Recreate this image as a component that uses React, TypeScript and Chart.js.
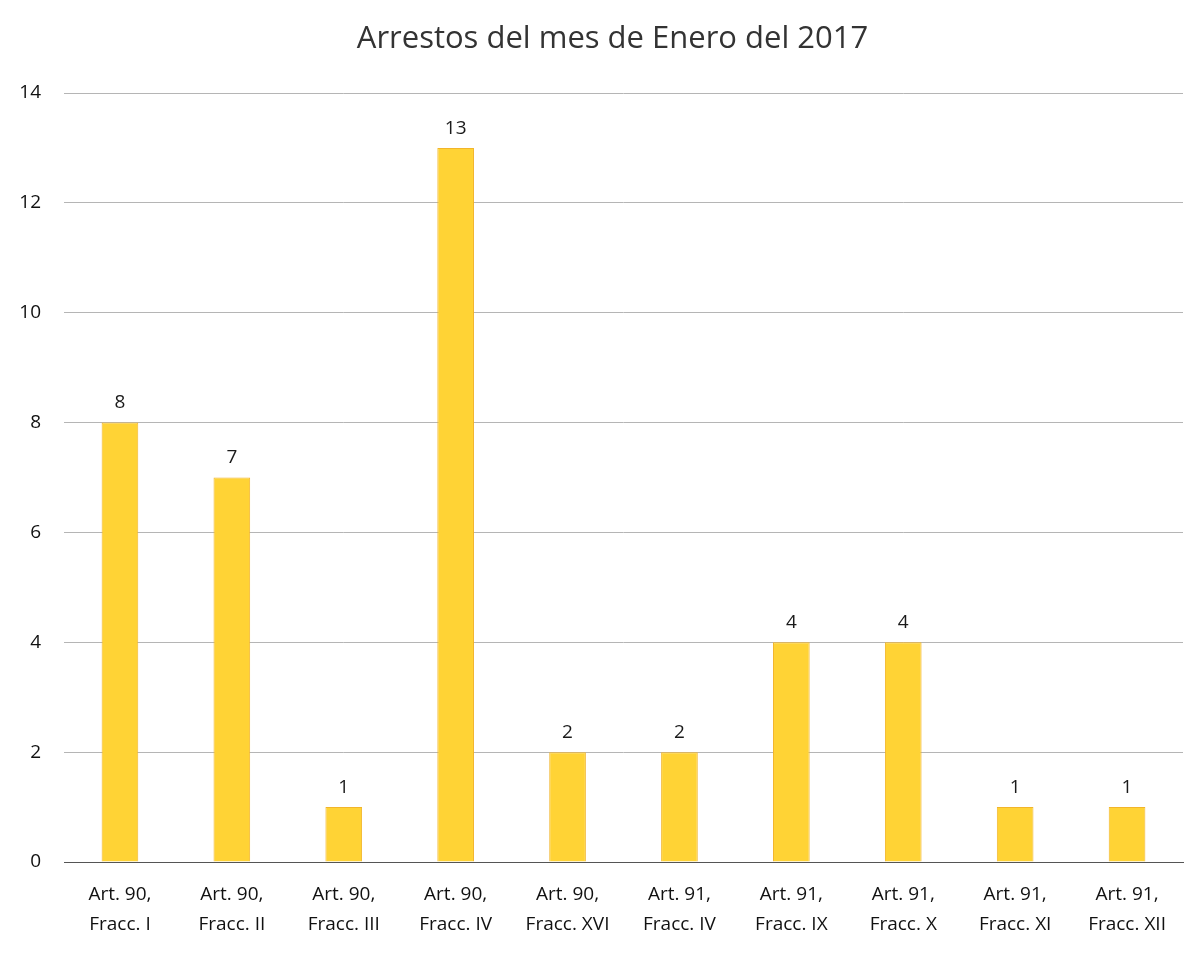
import React, { useEffect, useRef } from "react";
import { Chart, registerables } from "chart.js";

Chart.register(...registerables);

const titleText = "Arrestos del mes de Enero del 2017";
const categories: string[][] = [
  ["Art. 90,", "Fracc. I"],
  ["Art. 90,", "Fracc. II"],
  ["Art. 90,", "Fracc. III"],
  ["Art. 90,", "Fracc. IV"],
  ["Art. 90,", "Fracc. XVI"],
  ["Art. 91,", "Fracc. IV"],
  ["Art. 91,", "Fracc. IX"],
  ["Art. 91,", "Fracc. X"],
  ["Art. 91,", "Fracc. XI"],
  ["Art. 91,", "Fracc. XII"],
];
const arrests: number[] = [8, 7, 1, 13, 2, 2, 4, 4, 1, 1];

const FONT = "'Open Sans', 'Liberation Sans', sans-serif";

const valueLabels = {
  id: "valueLabels",
  afterDatasetsDraw(chart: any) {
    const ctx = chart.ctx;
    const meta = chart.getDatasetMeta(0);
    ctx.save();
    ctx.fillStyle = "#1a1a1a";
    ctx.font = `19px ${FONT}`;
    ctx.textAlign = "center";
    ctx.textBaseline = "bottom";
    meta.data.forEach((bar: any, i: number) => {
      ctx.fillText(String(chart.data.datasets[0].data[i]), bar.x, bar.y - 10);
    });
    ctx.restore();
  },
};

const centeredTitle = {
  id: "centeredTitle",
  afterDraw(chart: any) {
    const ctx = chart.ctx;
    ctx.save();
    ctx.fillStyle = "#333";
    ctx.font = `31px ${FONT}`;
    ctx.textAlign = "center";
    ctx.textBaseline = "middle";
    ctx.fillText(titleText, (chart.chartArea.left + chart.chartArea.right) / 2 - 11, 39);
    ctx.restore();
  },
};

export default function App() {
  const ref = useRef<HTMLCanvasElement | null>(null);
  useEffect(() => {
    document.body.style.margin = "0";
    const chart = new Chart(ref.current as HTMLCanvasElement, {
      type: "bar",
      data: {
        labels: categories,
        datasets: [
          {
            data: arrests,
            backgroundColor: "#FFD335",
            borderColor: "#F2B52A",
            borderWidth: 1,
            barPercentage: 0.63,
            categoryPercentage: 0.52,
          },
        ],
      },
      plugins: [valueLabels, centeredTitle],
      options: {
        animation: false,
        responsive: false,
        maintainAspectRatio: false,
        layout: { padding: { left: 0, right: 19, top: 93, bottom: 0 } },
        plugins: {
          legend: { display: false },
          tooltip: { enabled: false },
          title: { display: false },
        },
        scales: {
          x: {
            grid: { display: false, drawTicks: false },
            border: { display: true, color: "#555", width: 1 },
            ticks: {
              color: "#111",
              font: { family: FONT, size: 19, lineHeight: 1.6 },
              padding: 17,
              maxRotation: 0,
              autoSkip: false,
            },
            afterFit(scale: any) {
              scale.height = 94;
            },
          },
          y: {
            min: 0,
            max: 14,
            ticks: {
              stepSize: 2,
              color: "#111",
              font: { family: FONT, size: 19 },
              padding: 23,
            },
            grid: { color: "#b5b5b5", drawTicks: false, lineWidth: 1 },
            border: { display: false },
            afterFit(scale: any) {
              scale.width = 64;
            },
          },
        },
      },
    });
    return () => chart.destroy();
  }, []);
  return (
    <div style={{ width: 1202, height: 956, background: "#fff" }}>
      <canvas ref={ref} width={1202} height={956} />
    </div>
  );
}
